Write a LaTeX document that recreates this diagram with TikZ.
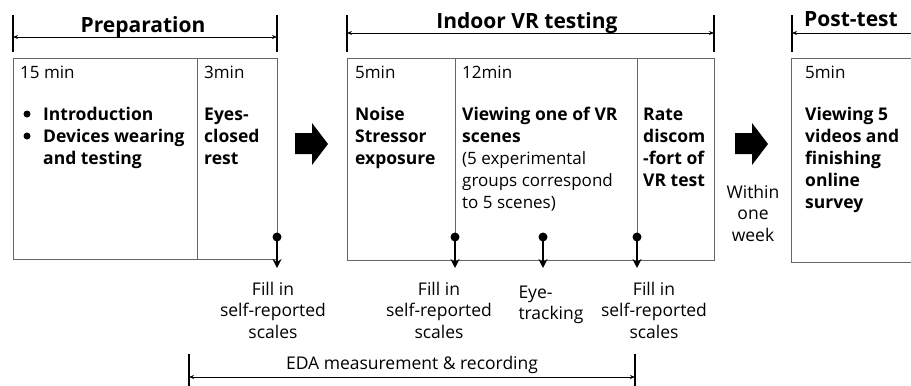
\documentclass[tikz,border=0pt]{standalone}
\usepackage{fontspec}
\setmainfont{Open Sans}
\usetikzlibrary{arrows.meta}

\begin{document}
\begin{tikzpicture}[x=1bp, y=-1bp,
    frame/.style={draw=black!60, line width=1pt},
    span/.style={draw, line width=0.9pt, {Stealth[length=5bp,width=4bp]}-{Stealth[length=5bp,width=4bp]}},
    tick/.style={draw, line width=1.2pt},
    head/.style={font=\fontsize{21bp}{24bp}\selectfont\bfseries, anchor=base},
    dur/.style={font=\fontsize{17bp}{22bp}\selectfont, anchor=base west, inner sep=0pt, align=left},
    task/.style={font=\fontsize{17.5bp}{22bp}\selectfont\bfseries, anchor=base west, inner sep=0pt, align=left},
    note/.style={font=\fontsize{17.5bp}{21.5bp}\selectfont, inner sep=0pt, align=center},
    probe/.style={line width=1.6pt, -{Stealth[length=9bp,width=9bp]}},
    bigarrow/.style={fill=black}]
    \clip (0,0) rectangle (911,385);
    \useasboundingbox (0,0) rectangle (911,385);

    % preparation
    \coordinate (prepL) at (13,37);
    \coordinate (prepR) at (277,37);
    \draw [tick] (13,15) -- (13,52);
    \draw [tick] (277,15) -- (277,52);
    \draw [span] (prepL) -- (prepR);
    \node [head] (prepHead) at (143,32) {Preparation};
    \draw [frame] (13,58) rectangle (277,259);
    \draw [frame] (197,58) -- (197,259);
    \node [dur] (introTime) at (20,78) {15 min};
    \node [task] (introTask) at (43,164) {Introduction\\Devices wearing\\and testing};
    \fill (27,114) circle (3.5) (27,136) circle (3.5);
    \node [dur] (restTime) at (204,78) {3min};
    \node [task] (restTask) at (204,164) {Eyes-\\closed\\rest};

    \fill [bigarrow] (295,133) -- (312,133) -- (312,123) -- (328,144) -- (312,165) -- (312,154) -- (295,154) -- cycle;

    % indoor VR testing
    \coordinate (vrL) at (347,33);
    \coordinate (vrR) at (714,33);
    \draw [tick] (347,15) -- (347,52);
    \draw [tick] (714,15) -- (714,52);
    \draw [span] (vrL) -- (vrR);
    \node [head] (vrHead) at (527,28) {Indoor VR testing};
    \draw [frame] (347,58) rectangle (714,260);
    \draw [frame] (455,58) -- (455,260);
    \draw [frame] (637,58) -- (637,260);
    \node [dur] (noiseTime) at (355,78) {5min};
    \node [task] (noiseTask) at (355,164) {Noise\\Stressor\\exposure};
    \node [dur] (sceneTime) at (462,78) {12min};
    \node [task] (sceneTask) at (462,142) {Viewing one of VR\\scenes};
    \node [dur] (sceneNote) at (462,208) {(5 experimental\\groups correspond\\to 5 scenes)};
    \node [task] (rateTask) at (643,186) {Rate\\discom\\-fort of\\VR test};

    \fill [bigarrow] (735,133) -- (752,133) -- (752,123) -- (768,144) -- (752,165) -- (752,154) -- (735,154) -- cycle;
    \node [note] (gap) at (753,213) {Within\\one\\week};

    % post-test
    \coordinate (postL) at (792,33);
    \coordinate (postR) at (925,33);
    \draw [tick] (792,15) -- (792,52);
    \draw [line width=0.9pt, {Stealth[length=5bp,width=4bp]}-] (postL) -- (postR);
    \node [head] (postHead) at (851,26) {Post-test};
    \draw [frame] (791,58) rectangle (930,262);
    \node [dur] (postTime) at (805,78) {5min};
    \node [task] (postTask) at (805,208) {Viewing 5\\videos and\\finishing\\online\\survey};

    % measurements
    \coordinate (m1) at (277,237);
    \coordinate (m2) at (455,237);
    \coordinate (m3) at (543,237);
    \coordinate (m4) at (637,237);
    \foreach \m in {m1, m2, m3, m4} {
        \fill (\m) circle (4.5);
        \draw [probe] (\m) -- ++(0,31);
    }
    \node [note] (fill1) at (273,310) {Fill in\\self-reported\\scales};
    \node [note] (fill2) at (439,310) {Fill in\\self-reported\\scales};
    \node [note, align=left] (eye) at (551,305) {Eye-\\tracking};
    \node [note] (fill3) at (654,310) {Fill in\\self-reported\\scales};

    % EDA
    \coordinate (edaL) at (189,377);
    \coordinate (edaR) at (635,377);
    \draw [tick] (189,354) -- (189,390);
    \draw [tick] (635,354) -- (635,390);
    \draw [span] (edaL) -- (edaR);
    \node [note] (eda) at (412,365) {EDA measurement \& recording};
\end{tikzpicture}
\end{document}
